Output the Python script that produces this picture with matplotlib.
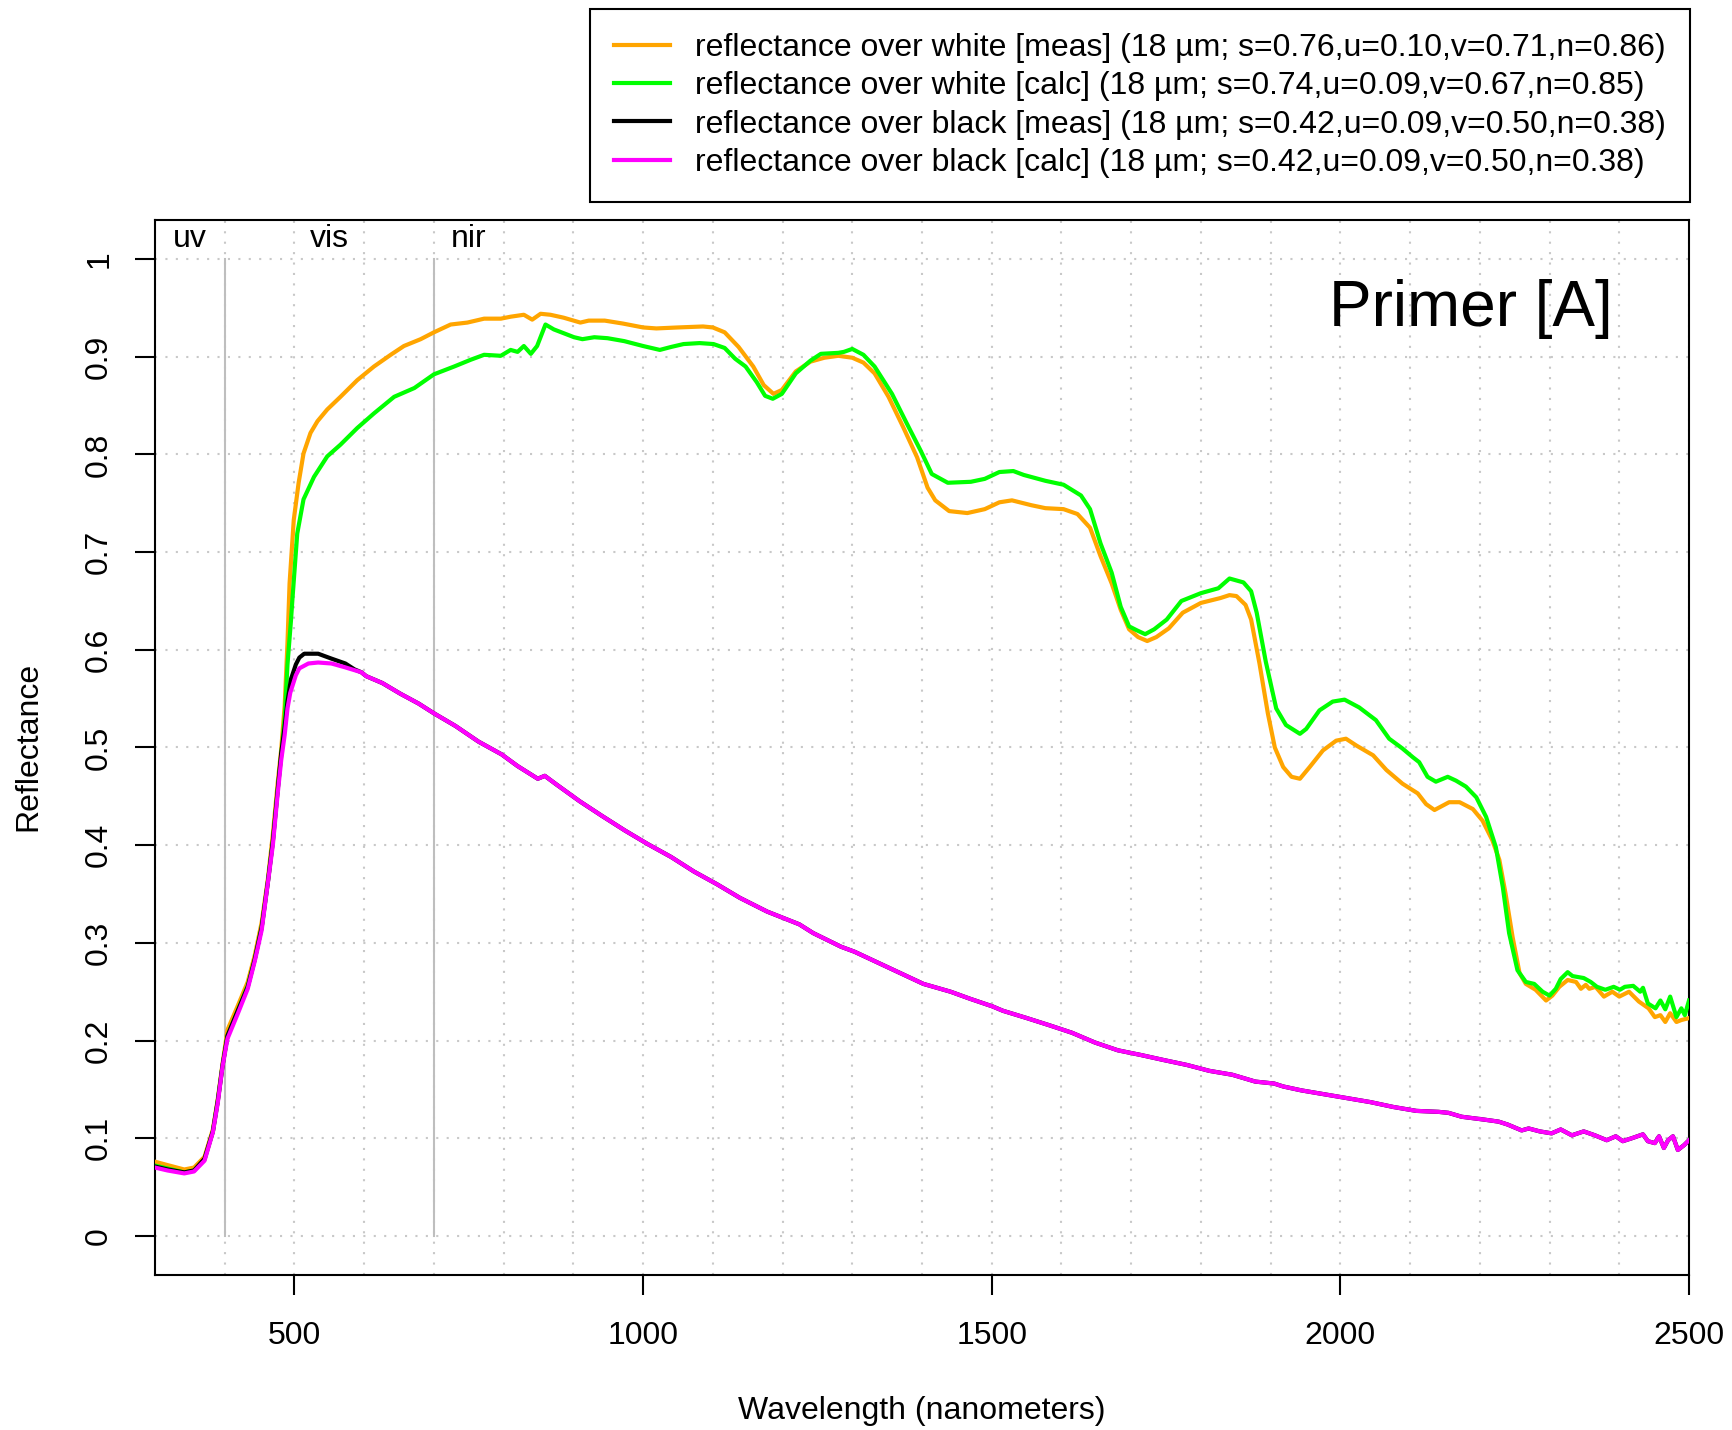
import numpy as np
import matplotlib.pyplot as plt

plt.rcParams['font.family'] = ['Liberation Sans', 'DejaVu Sans']

# reflectance over white, measured
white_meas_wl = [300, 318, 342, 356, 371, 383, 390, 397, 404, 419, 433, 443, 453, 462, 469, 476,
                 481, 486, 490, 493, 499, 506, 513, 523, 533, 547, 566, 590, 614, 638, 657, 681,
                 700, 724, 748, 772, 796, 810, 829, 841, 853, 867, 886, 910, 922, 945, 971, 1000,
                 1019, 1050, 1086, 1100, 1117, 1137, 1158, 1173, 1187, 1199, 1219, 1240, 1260,
                 1280, 1300, 1316, 1332, 1352, 1373, 1393, 1408, 1419, 1439, 1465, 1490, 1511,
                 1529, 1557, 1577, 1603, 1623, 1641, 1656, 1672, 1685, 1697, 1710, 1723, 1736,
                 1754, 1774, 1800, 1828, 1841, 1851, 1864, 1872, 1884, 1896, 1906, 1918, 1930,
                 1942, 1956, 1975, 1994, 2008, 2023, 2047, 2066, 2089, 2111, 2123, 2135, 2156,
                 2171, 2190, 2204, 2218, 2228, 2237, 2247, 2257, 2266, 2280, 2295, 2304, 2314,
                 2326, 2338, 2345, 2352, 2357, 2366, 2378, 2390, 2400, 2414, 2428, 2442, 2451,
                 2459, 2466, 2473, 2482, 2489, 2500]
white_meas_r = [0.076, 0.0725, 0.068, 0.070, 0.081, 0.109, 0.140, 0.177, 0.211, 0.236, 0.260,
                0.287, 0.321, 0.366, 0.411, 0.464, 0.498, 0.543, 0.607, 0.668, 0.733, 0.771,
                0.801, 0.822, 0.834, 0.846, 0.859, 0.876, 0.890, 0.902, 0.911, 0.918, 0.925,
                0.933, 0.935, 0.939, 0.939, 0.941, 0.943, 0.938, 0.944, 0.943, 0.940, 0.935,
                0.937, 0.937, 0.934, 0.930, 0.929, 0.930, 0.931, 0.930, 0.925, 0.910, 0.890,
                0.871, 0.862, 0.866, 0.885, 0.895, 0.899, 0.901, 0.899, 0.894, 0.883, 0.859,
                0.828, 0.797, 0.766, 0.753, 0.742, 0.740, 0.744, 0.751, 0.753, 0.748, 0.745,
                0.744, 0.739, 0.725, 0.696, 0.668, 0.641, 0.621, 0.613, 0.609, 0.613, 0.622,
                0.638, 0.648, 0.653, 0.656, 0.655, 0.646, 0.631, 0.586, 0.535, 0.500, 0.480,
                0.470, 0.468, 0.480, 0.497, 0.507, 0.509, 0.502, 0.492, 0.477, 0.463, 0.453,
                0.442, 0.436, 0.444, 0.444, 0.437, 0.425, 0.405, 0.385, 0.350, 0.306, 0.269,
                0.258, 0.252, 0.241, 0.246, 0.255, 0.262, 0.260, 0.253, 0.257, 0.253, 0.255,
                0.245, 0.250, 0.245, 0.250, 0.240, 0.233, 0.224, 0.226, 0.219, 0.228, 0.219,
                0.221, 0.223]

# reflectance over white, calculated
white_calc_wl = [300, 318, 342, 356, 371, 383, 390, 397, 404, 419, 433, 443, 453, 462, 469, 476,
                 481, 486, 490, 495, 497, 504, 513, 528, 547, 566, 590, 614, 643, 672, 700, 729,
                 753, 772, 796, 810, 820, 829, 839, 848, 860, 872, 901, 913, 930, 949, 973, 1000,
                 1024, 1040, 1058, 1081, 1101, 1117, 1132, 1147, 1163, 1175, 1186, 1199, 1219,
                 1240, 1255, 1280, 1288, 1300, 1316, 1332, 1357, 1378, 1398, 1414, 1437, 1470,
                 1490, 1511, 1531, 1546, 1577, 1603, 1628, 1641, 1656, 1672, 1685, 1697, 1708,
                 1720, 1733, 1751, 1772, 1800, 1825, 1841, 1861, 1872, 1880, 1893, 1908, 1922,
                 1942, 1951, 1970, 1989, 2006, 2027, 2051, 2070, 2089, 2104, 2113, 2125, 2137,
                 2154, 2166, 2180, 2195, 2209, 2223, 2233, 2242, 2254, 2266, 2278, 2290, 2300,
                 2309, 2316, 2326, 2333, 2349, 2359, 2368, 2380, 2392, 2401, 2408, 2420, 2430,
                 2434, 2441, 2452, 2459, 2466, 2473, 2482, 2489, 2494, 2500]
white_calc_r = [0.072, 0.069, 0.065, 0.067, 0.078, 0.107, 0.138, 0.175, 0.205, 0.231, 0.256,
                0.283, 0.316, 0.363, 0.404, 0.457, 0.492, 0.530, 0.585, 0.630, 0.651, 0.719,
                0.754, 0.777, 0.798, 0.810, 0.827, 0.842, 0.859, 0.868, 0.882, 0.890, 0.897,
                0.902, 0.901, 0.907, 0.905, 0.911, 0.903, 0.911, 0.933, 0.928, 0.920, 0.918,
                0.920, 0.919, 0.916, 0.911, 0.907, 0.910, 0.913, 0.914, 0.913, 0.909, 0.898,
                0.890, 0.874, 0.860, 0.857, 0.862, 0.883, 0.896, 0.903, 0.904, 0.905, 0.908,
                0.902, 0.890, 0.862, 0.832, 0.804, 0.780, 0.771, 0.772, 0.775, 0.782, 0.783,
                0.779, 0.773, 0.769, 0.758, 0.744, 0.709, 0.679, 0.644, 0.624, 0.620, 0.616,
                0.621, 0.631, 0.650, 0.658, 0.663, 0.673, 0.669, 0.660, 0.638, 0.588, 0.540,
                0.523, 0.514, 0.519, 0.538, 0.547, 0.549, 0.541, 0.528, 0.509, 0.499, 0.490,
                0.485, 0.470, 0.465, 0.470, 0.466, 0.460, 0.449, 0.429, 0.398, 0.357, 0.310,
                0.272, 0.260, 0.258, 0.250, 0.246, 0.253, 0.263, 0.270, 0.266, 0.264, 0.260,
                0.255, 0.252, 0.255, 0.252, 0.255, 0.256, 0.250, 0.254, 0.238, 0.233, 0.241,
                0.232, 0.245, 0.224, 0.233, 0.226, 0.241]

# reflectance over black, calculated
black_calc_wl = [300, 318, 342, 356, 371, 383, 390, 397, 404, 419, 433, 443, 453, 462, 469, 476,
                 481, 486, 490, 494, 502, 507, 520, 534, 553, 573, 596, 603, 626, 652, 678, 700,
                 731, 764, 797, 820, 849, 859, 876, 909, 941, 974, 1007, 1040, 1073, 1106, 1139,
                 1178, 1224, 1244, 1284, 1303, 1336, 1369, 1402, 1441, 1468, 1501, 1516, 1549,
                 1582, 1615, 1648, 1681, 1714, 1747, 1780, 1812, 1845, 1878, 1905, 1918, 1944,
                 1977, 2010, 2043, 2076, 2109, 2141, 2155, 2174, 2207, 2227, 2240, 2260, 2270,
                 2286, 2303, 2316, 2332, 2349, 2365, 2382, 2395, 2405, 2418, 2434, 2441, 2451,
                 2457, 2464, 2470, 2477, 2484, 2493, 2500]
black_calc_r = [0.070, 0.067, 0.064, 0.066, 0.077, 0.106, 0.136, 0.174, 0.202, 0.228, 0.253,
                0.281, 0.313, 0.362, 0.400, 0.453, 0.487, 0.513, 0.540, 0.556, 0.574, 0.581,
                0.586, 0.587, 0.586, 0.582, 0.577, 0.573, 0.566, 0.555, 0.545, 0.535, 0.522,
                0.506, 0.493, 0.481, 0.468, 0.471, 0.462, 0.445, 0.430, 0.415, 0.401, 0.388,
                0.373, 0.360, 0.346, 0.332, 0.319, 0.310, 0.296, 0.291, 0.280, 0.269, 0.258,
                0.250, 0.243, 0.235, 0.2305, 0.2233, 0.2158, 0.208, 0.198, 0.190, 0.1852,
                0.180, 0.175, 0.169, 0.165, 0.158, 0.156, 0.153, 0.149, 0.145, 0.141, 0.137,
                0.132, 0.128, 0.127, 0.126, 0.122, 0.119, 0.117, 0.114, 0.108, 0.110, 0.107,
                0.105, 0.109, 0.103, 0.107, 0.103, 0.098, 0.102, 0.097, 0.100, 0.104, 0.097,
                0.095, 0.102, 0.090, 0.098, 0.102, 0.088, 0.093, 0.098]

# reflectance over black, measured (same as calc above ~600 nm)
black_meas_wl = [300, 318, 342, 356, 371, 383, 390, 397, 404, 419, 433, 443, 453, 462, 469, 476,
                 481, 486, 490, 495, 502, 507, 514, 534, 553, 573, 586]
black_meas_r = [0.071, 0.068, 0.065, 0.067, 0.079, 0.107, 0.138, 0.175, 0.205, 0.231, 0.255,
                0.283, 0.316, 0.363, 0.404, 0.457, 0.494, 0.521, 0.547, 0.570, 0.585, 0.592,
                0.596, 0.596, 0.591, 0.586, 0.580]
black_meas_wl = black_meas_wl + [w for w in black_calc_wl if w > 590]
black_meas_r = black_meas_r + [r for w, r in zip(black_calc_wl, black_calc_r) if w > 590]

labels = ['reflectance over white [meas] (18 \u00b5m; s=0.76,u=0.10,v=0.71,n=0.86)',
          'reflectance over white [calc] (18 \u00b5m; s=0.74,u=0.09,v=0.67,n=0.85)',
          'reflectance over black [meas] (18 \u00b5m; s=0.42,u=0.09,v=0.50,n=0.38)',
          'reflectance over black [calc] (18 \u00b5m; s=0.42,u=0.09,v=0.50,n=0.38)']
colors = ['#FFA500', '#00FF00', 'black', '#FF00FF']

region_names = ['uv', 'vis', 'nir']
region_pos = [350, 550, 750]
region_bounds = [400, 700]

W, H = 1733, 1430
fig = plt.figure(figsize=(W / 100, H / 100), dpi=100)
ax = fig.add_axes([155 / W, 1 - 1275 / H, (1689 - 155) / W, (1275 - 220) / H])

ax.set_xlim(300, 2500)
ax.set_ylim(-0.04, 1.04)

# dotted grid
for gx in np.arange(300, 2501, 100):
    ax.axvline(gx, color='#C8C8C8', lw=1.5, dashes=(1, 4), zorder=0)
for gy in np.arange(0, 1.01, 0.1):
    ax.axhline(gy, color='#C8C8C8', lw=1.5, dashes=(1, 4), zorder=0)

for b in region_bounds:
    ax.plot([b, b], [0, 1], color='#BEBEBE', lw=1.5, zorder=1)
for name, pos in zip(region_names, region_pos):
    ax.text(pos, 1.021, name, ha='center', va='center', fontsize=23)

series = [(white_meas_wl, white_meas_r), (white_calc_wl, white_calc_r),
          (black_meas_wl, black_meas_r), (black_calc_wl, black_calc_r)]
handles = []
for (wl, r), c, lab in zip(series, colors, labels):
    h, = ax.plot(wl, r, color=c, lw=3, label=lab, zorder=3)
    handles.append(h)

ax.text(2390, 0.949, 'Primer [A]', ha='right', va='center', fontsize=46)

ax.set_xticks([500, 1000, 1500, 2000, 2500])
ax.set_yticks(np.arange(0, 1.01, 0.1))
ax.set_yticklabels(['0'] + ['%.1f' % v for v in np.arange(0.1, 0.95, 0.1)] + ['1'],
                   rotation=90, va='center')
ax.tick_params(axis='both', length=14.4, width=1.5, labelsize=23, pad=15)
ax.tick_params(axis='x', pad=19)
for s in ax.spines.values():
    s.set_linewidth(1.5)

fig.text(922 / W, 1 - 1411 / H, 'Wavelength (nanometers)', ha='center', va='center', fontsize=23)
fig.text(28 / W, 1 - 746 / H, 'Reflectance', ha='center', va='center', rotation=90, fontsize=23)

leg = fig.legend(handles=handles, loc='upper right', bbox_to_anchor=(1690 / W, 1 - 9 / H),
                 fontsize=23, frameon=True, fancybox=False, edgecolor='black', framealpha=1,
                 borderaxespad=0, handlelength=1.75, handletextpad=0.8, labelspacing=0.26,
                 borderpad=0.75)
leg.get_frame().set_linewidth(1.5)

fig.savefig('out.png', dpi=100)
